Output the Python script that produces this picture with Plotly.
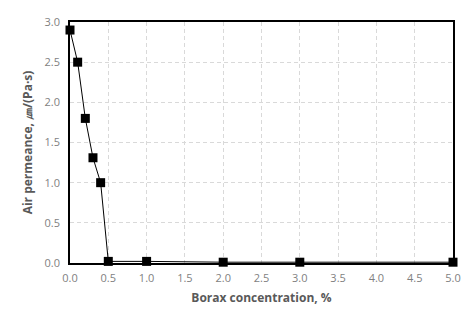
import plotly.graph_objects as go

borax = [0, 0.1, 0.2, 0.3, 0.4, 0.5, 1.0, 2.0, 3.0, 5.0]
permeance = [2.9, 2.5, 1.8, 1.31, 1.0, 0.02, 0.02, 0.01, 0.01, 0.01]

fig = go.Figure()
fig.add_trace(go.Scatter(
    x=borax, y=permeance, mode="lines+markers",
    line=dict(color="black", width=1),
    marker=dict(symbol="square", size=9, color="black"),
    showlegend=False, cliponaxis=False,
))

font = "Open Sans, Liberation Sans, sans-serif"
fig.update_layout(
    width=475, height=315,
    margin=dict(l=70, r=22, t=22, b=50),
    plot_bgcolor="white", paper_bgcolor="white",
    font=dict(family=font, size=11, color="#7f7f7f"),
    xaxis=dict(
        range=[0, 5], dtick=0.5, tickformat=".1f",
        showgrid=True, gridcolor="#d9d9d9", griddash="4px,3px", gridwidth=1,
        showline=True, linecolor="black", linewidth=2, mirror=True,
        zeroline=False, ticks="outside", ticklen=4, tickcolor="rgba(0,0,0,0)",
        title=dict(text="<b>Borax concentration, %</b>", font=dict(size=12, color="#595959"), standoff=9),
    ),
    yaxis=dict(
        range=[0, 3], dtick=0.5, tickformat=".1f",
        showgrid=True, gridcolor="#d9d9d9", griddash="4px,3px", gridwidth=1,
        showline=True, linecolor="black", linewidth=1.5, mirror=True,
        zeroline=False, ticks="outside", ticklen=6, tickcolor="rgba(0,0,0,0)",
        title=dict(text="<b>Air permeance, ㎛/(Pa·s)</b>", font=dict(size=12, color="#595959"), standoff=9),
    ),
)
fig.write_html("out.html")
